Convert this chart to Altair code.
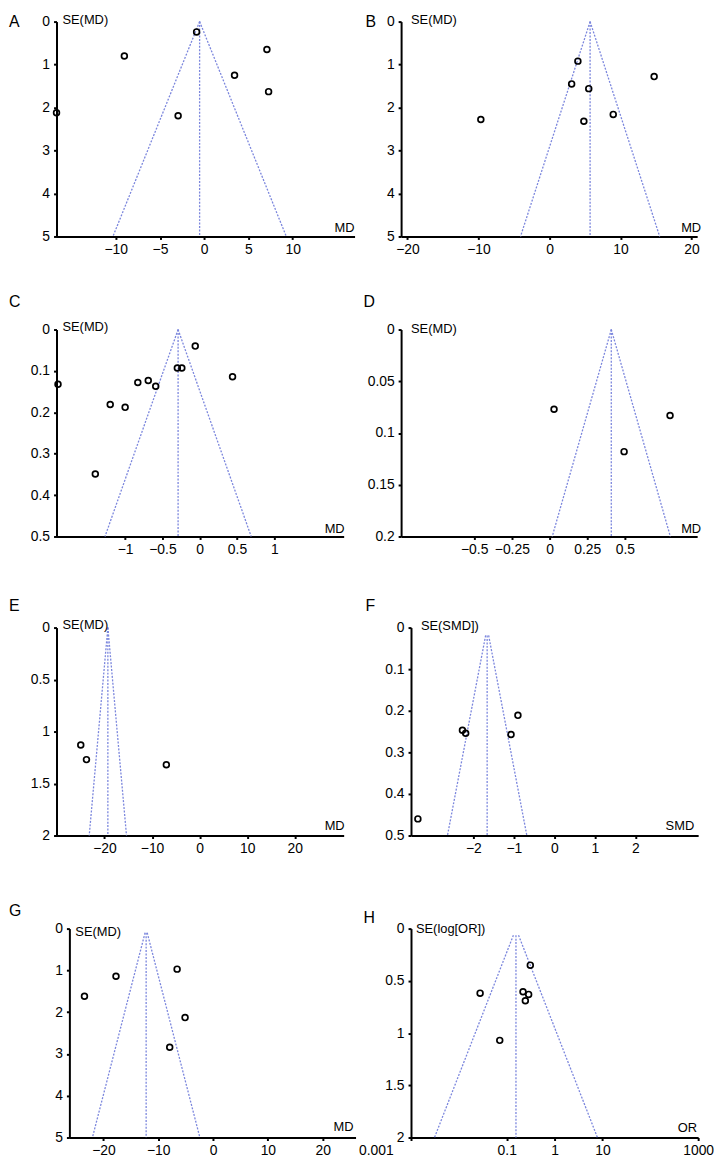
import math
import altair as alt
import pandas as pd

FONT = "Liberation Sans"
FUNNEL_COLOR = "#7b86dd"

# ---------------- data ----------------
A_md = [-16.7, -9.03, -2.95, -0.86, 3.43, 7.09, 7.28]
A_se = [2.12, 0.80, 2.19, 0.24, 1.25, 0.65, 1.63]
A_pooled, A_se_max, A_s0 = -0.52, 5, 0
A_x_dom = [-16.7, 17.0]
A_x_ticks = [-10, -5, 0, 5, 10]
A_y_ticks = [0, 1, 2, 3, 4, 5]

B_md = [-9.67, 3.12, 4.0, 4.84, 5.53, 8.98, 14.74]
B_se = [2.28, 1.45, 0.92, 2.32, 1.56, 2.16, 1.28]
B_pooled, B_se_max, B_s0 = 5.72, 5, 0
B_x_dom = [-20.9, 20.8]
B_x_ticks = [-20, -10, 0, 10, 20]
B_y_ticks = [0, 1, 2, 3, 4, 5]

C_md = [-1.90, -1.40, -1.20, -1.00, -0.83, -0.69, -0.59, -0.30, -0.24, -0.06, 0.44]
C_se = [0.132, 0.349, 0.181, 0.188, 0.128, 0.123, 0.137, 0.093, 0.093, 0.040, 0.114]
C_pooled, C_se_max, C_s0 = -0.29, 0.5, 0
C_x_dom = [-1.92, 1.93]
C_x_ticks = [-1, -0.5, 0, 0.5, 1]
C_y_ticks = [0, 0.1, 0.2, 0.3, 0.4, 0.5]

D_md = [0.03, 0.495, 0.80]
D_se = [0.077, 0.118, 0.083]
D_pooled, D_se_max, D_s0 = 0.41, 0.2, 0
D_x_dom = [-0.985, 0.98]
D_x_ticks = [-0.5, -0.25, 0, 0.25, 0.5]
D_y_ticks = [0, 0.05, 0.1, 0.15, 0.2]

E_md = [-25.0, -23.8, -7.0]
E_se = [1.13, 1.27, 1.32]
E_pooled, E_se_max, E_s0 = -19.3, 2, 0
E_x_dom = [-30.1, 30.3]
E_x_ticks = [-20, -10, 0, 10, 20]
E_y_ticks = [0, 0.5, 1, 1.5, 2]

F_smd = [-3.37, -2.27, -2.19, -1.07, -0.90]
F_se = [0.460, 0.247, 0.254, 0.257, 0.211]
F_pooled, F_se_max, F_s0 = -1.66, 0.5, 0.019
F_x_dom = [-3.54, 3.55]
F_x_ticks = [-2, -1, 0, 1, 2]
F_y_ticks = [0, 0.1, 0.2, 0.3, 0.4, 0.5]

G_md = [-23.45, -17.7, -7.9, -6.55, -5.1]
G_se = [1.62, 1.14, 2.84, 0.97, 2.13]
G_pooled, G_se_max, G_s0 = -12.2, 5, 0.1
G_x_dom = [-26.2, 26.0]
G_x_ticks = [-20, -10, 0, 10, 20]
G_y_ticks = [0, 1, 2, 3, 4, 5]

H_or = [0.0278, 0.0715, 0.219, 0.245, 0.287, 0.311]
H_se = [0.618, 1.07, 0.605, 0.69, 0.63, 0.35]
H_pooled, H_se_max, H_s0 = 0.156, 2, 0.063
H_x_dom = [0.001, 1000]
H_x_ticks = [0.001, 0.1, 1, 10, 1000]
H_y_ticks = [0, 0.5, 1, 1.5, 2]

# ---------------- layout ----------------
# Vega grid: all column-0 origins share x, all column-1 origins share x,
# each row shares y.  Invisible anchor points fix every cell's extents.
PAGE = 8
ROW_TOP = [16, 327, 628, 932]      # plot-area tops (page px)
ROW_H = [217, 209, 210, 211]       # plot-area heights
COL_X = [57, 400]                  # cell origins (page px)
ROW_PAD = 20
BOTTOM_EXT = 30                    # bottom anchor below plot (rows 1-3)
LEFT_EXT = [COL_X[0] - PAGE, 39]   # left anchors
COL0_RIGHT = 304                   # right extent of column-0 cells
COL_PAD = COL_X[1] - COL_X[0] - COL0_RIGHT - LEFT_EXT[1]

TOP_EXT = [ROW_TOP[0] - PAGE]
for r in range(1, 4):
    TOP_EXT.append(ROW_TOP[r] - ROW_TOP[r - 1] - ROW_H[r - 1] - BOTTOM_EXT - ROW_PAD)

panels = [
    dict(letter="A", xs=A_md, ys=A_se, pooled=A_pooled, se_max=A_se_max, s0=A_s0,
         xdom=A_x_dom, xt=A_x_ticks, yt=A_y_ticks, xlab="MD", ylab="SE(MD)", log=False,
         w=301, inset=0, let=(-48, 0), yl=(6, -1.5), xl=(0, -9)),
    dict(letter="B", xs=B_md, ys=B_se, pooled=B_pooled, se_max=B_se_max, s0=B_s0,
         xdom=B_x_dom, xt=B_x_ticks, yt=B_y_ticks, xlab="MD", ylab="SE(MD)", log=False,
         w=299, inset=0, let=(-36, 0), yl=(10, -1.5), xl=(4, -9)),
    dict(letter="C", xs=C_md, ys=C_se, pooled=C_pooled, se_max=C_se_max, s0=C_s0,
         xdom=C_x_dom, xt=C_x_ticks, yt=C_y_ticks, xlab="MD", ylab="SE(MD)", log=False,
         w=290, inset=0, let=(-48, -28), yl=(6, -3), xl=(1, -8)),
    dict(letter="D", xs=D_md, ys=D_se, pooled=D_pooled, se_max=D_se_max, s0=D_s0,
         xdom=D_x_dom, xt=D_x_ticks, yt=D_y_ticks, xlab="MD", ylab="SE(MD)", log=False,
         w=299, inset=0, let=(-38, -28), yl=(10, -1), xl=(4, -8)),
    dict(letter="E", xs=E_md, ys=E_se, pooled=E_pooled, se_max=E_se_max, s0=E_s0,
         xdom=E_x_dom, xt=E_x_ticks, yt=E_y_ticks, xlab="MD", ylab="SE(MD)", log=False,
         w=290, inset=0, let=(-48, -22), yl=(6, -3), xl=(1, -10)),
    dict(letter="F", xs=F_smd, ys=F_se, pooled=F_pooled, se_max=F_se_max, s0=F_s0,
         xdom=F_x_dom, xt=F_x_ticks, yt=F_y_ticks, xlab="SMD", ylab="SE(SMD])", log=False,
         w=300, inset=10, let=(-36, -22), yl=(20, -2), xl=(-4, -10)),
    dict(letter="G", xs=G_md, ys=G_se, pooled=G_pooled, se_max=G_se_max, s0=G_s0,
         xdom=G_x_dom, xt=G_x_ticks, yt=G_y_ticks, xlab="MD", ylab="SE(MD)", log=False,
         w=302, inset=13, let=(-48, -18), yl=(19, 3), xl=(-2, -11)),
    dict(letter="H", xs=H_or, ys=H_se, pooled=H_pooled, se_max=H_se_max, s0=H_s0,
         xdom=H_x_dom, xt=H_x_ticks, yt=H_y_ticks, xlab="OR", ylab="SE(log[OR])", log=True,
         w=300, inset=10, let=(-38, -11), yl=(15, 0), xl=(-1, -10)),
]


def funnel_frame(pooled, se_max, s0, log):
    rows = []
    for part, sign in (("left", -1), ("right", 1)):
        for k, se in enumerate((s0, se_max)):
            x = pooled * math.exp(sign * 1.96 * se) if log else pooled + sign * 1.96 * se
            rows.append({"part": part, "x": x, "se": se, "o": k})
    rows.append({"part": "mid", "x": pooled, "se": s0, "o": 0})
    rows.append({"part": "mid", "x": pooled, "se": se_max, "o": 1})
    return pd.DataFrame(rows)


def text_layer(txt, x, y, size, align):
    return alt.Chart(pd.DataFrame({"t": [txt]})).mark_text(
        align=align, baseline="middle", fontSize=size, font=FONT, color="black"
    ).encode(x=alt.value(x), y=alt.value(y), text="t:N")


def anchor_layer(x, y):
    return alt.Chart(pd.DataFrame({"a": [0]})).mark_point(
        filled=True, size=1, opacity=0
    ).encode(x=alt.value(x), y=alt.value(y))


LABEL_EXPR = "format(datum.value, '~g')"

charts = []
for i, p in enumerate(panels):
    r, c = divmod(i, 2)
    w, h = p["w"], ROW_H[r]

    rng = [p["inset"], w]
    if p["log"]:
        xscale = alt.Scale(type="log", domain=p["xdom"], nice=False, range=rng)
        xaxis = alt.Axis(
            values=p["xt"], labelExpr=LABEL_EXPR, title=None, grid=False, labelFlush=False,
            labelAlign={"condition": {"test": "datum.value < 0.002", "value": "right"}, "value": "center"},
            labelOffset={"condition": {"test": "datum.value < 0.002", "value": -18}, "value": 0},
        )
    else:
        xscale = alt.Scale(domain=p["xdom"], nice=False, zero=False, range=rng)
        xaxis = alt.Axis(values=p["xt"], labelExpr=LABEL_EXPR, title=None, grid=False,
                         labelFlush=False)
    yscale = alt.Scale(domain=[0, p["se_max"]], reverse=True, nice=False, zero=False)
    yaxis = alt.Axis(values=p["yt"], labelExpr=LABEL_EXPR, title=None, grid=False,
                     offset=-p["inset"], labelPadding=4)

    pts = pd.DataFrame({"x": p["xs"], "se": p["ys"]})
    fun = funnel_frame(p["pooled"], p["se_max"], p["s0"], p["log"])

    top_left = anchor_layer(-LEFT_EXT[c] + 0.5, -TOP_EXT[r] + 0.5)
    bottom_y = h + BOTTOM_EXT - 0.5 if r < 3 else h
    right_x = (COL0_RIGHT - 0.5) if c == 0 else w
    bottom_right = anchor_layer(right_x, bottom_y)

    lines = alt.Chart(fun).mark_line(
        color=FUNNEL_COLOR, strokeWidth=1.3, strokeDash=[2, 1.5]
    ).encode(
        x=alt.X("x:Q", scale=xscale, axis=xaxis),
        y=alt.Y("se:Q", scale=yscale, axis=yaxis),
        detail="part:N",
        order="o:Q",
    )
    dots = alt.Chart(pts).mark_point(
        shape="circle", filled=False, color="black", strokeWidth=1.7, size=34, opacity=1
    ).encode(
        x=alt.X("x:Q", scale=xscale, axis=xaxis),
        y=alt.Y("se:Q", scale=yscale, axis=yaxis),
    )

    letter = text_layer(p["letter"], p["let"][0], p["let"][1], 16, "left")
    ylab = text_layer(p["ylab"], p["yl"][0], p["yl"][1], 13, "left")
    xlab = text_layer(p["xlab"], w + p["xl"][0], h + p["xl"][1], 13, "right")

    panel = alt.layer(top_left, bottom_right, lines, dots, letter, ylab, xlab).properties(
        width=w, height=h
    )
    charts.append(panel)

chart = alt.concat(
    *charts, columns=2, spacing={"row": ROW_PAD, "column": COL_PAD}, align="each", bounds="full"
).properties(
    padding=0, background="white"
).configure_view(
    stroke=None
).configure_axis(
    domainColor="black", domainWidth=2, tickColor="black", tickWidth=2, tickSize=3,
    labelFont=FONT, labelFontSize=14, labelColor="black", labelPadding=3, labelOverlap=False,
)

chart.save("out.html", embed_options={"renderer": "svg", "actions": False})
